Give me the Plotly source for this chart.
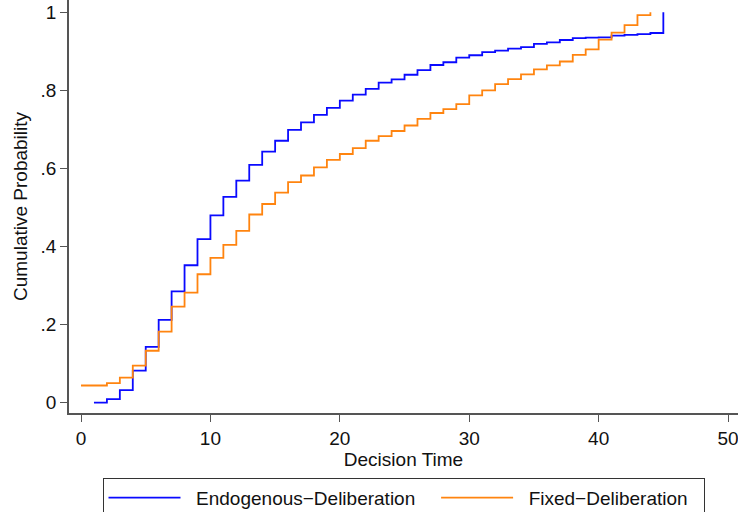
import plotly.graph_objects as go

# Decision times (x) and cumulative probabilities (y)
endo_x = [1, 2, 3, 4, 5, 6, 7, 8, 9, 10, 11, 12, 13, 14, 15, 16, 17, 18, 19, 20,
          21, 22, 23, 24, 25, 26, 27, 28, 29, 30, 31, 32, 33, 34, 35, 36, 37, 38,
          39, 40, 41, 42, 43, 44, 45]
endo_y = [0.0, 0.009, 0.032, 0.082, 0.143, 0.212, 0.285, 0.352, 0.419, 0.48,
          0.527, 0.569, 0.609, 0.643, 0.671, 0.699, 0.718, 0.737, 0.755, 0.774,
          0.789, 0.804, 0.82, 0.828, 0.84, 0.852, 0.865, 0.872, 0.884, 0.89,
          0.898, 0.902, 0.907, 0.911, 0.919, 0.923, 0.929, 0.934, 0.935, 0.936,
          0.94, 0.942, 0.944, 0.947, 1.0]

fixed_x = [0, 2, 3, 4, 5, 6, 7, 8, 9, 10, 11, 12, 13, 14, 15, 16, 17, 18, 19, 20,
           21, 22, 23, 24, 25, 26, 27, 28, 29, 30, 31, 32, 33, 34, 35, 36, 37, 38,
           39, 40, 41, 42, 43, 44]
fixed_y = [0.044, 0.05, 0.064, 0.095, 0.133, 0.182, 0.246, 0.282, 0.329, 0.371,
           0.404, 0.44, 0.482, 0.509, 0.538, 0.565, 0.582, 0.603, 0.622, 0.637,
           0.652, 0.671, 0.683, 0.696, 0.71, 0.727, 0.742, 0.752, 0.765, 0.787,
           0.8, 0.816, 0.829, 0.841, 0.854, 0.864, 0.874, 0.891, 0.905, 0.93,
           0.948, 0.967, 0.993, 1.0]

x_ticks = [0, 10, 20, 30, 40, 50]
y_ticks = [0, 0.2, 0.4, 0.6, 0.8, 1]
y_tick_labels = ["0", ".2", ".4", ".6", ".8", "1"]

series_names = ["Endogenous\u2212Deliberation", "Fixed\u2212Deliberation"]
PAD = "\u00a0\u00a0"  # small gap between legend key and its label

FONT = "Liberation Sans, Arial, Helvetica, sans-serif"
FS = 19
AXIS_COLOR = "#555555"

fig = go.Figure()
fig.add_trace(go.Scatter(x=endo_x, y=endo_y, mode="lines", line_shape="hv",
                         name=PAD + series_names[0] + "\u00a0\u00a0\u00a0",
                         line=dict(color="#0a0aff", width=1.8)))
fig.add_trace(go.Scatter(x=fixed_x, y=fixed_y, mode="lines", line_shape="hv",
                         name=PAD + series_names[1] + "\u00a0\u00a0",
                         line=dict(color="#ff840f", width=1.8)))

fig.update_layout(
    width=738, height=512,
    margin=dict(l=69, r=0, t=0, b=99, autoexpand=False),
    paper_bgcolor="white", plot_bgcolor="white",
    font=dict(family=FONT, size=FS, color="#111111"),
    showlegend=True,
    legend=dict(orientation="h", x=0.5, xanchor="center", y=-0.157, yanchor="top",
                bordercolor="#333333", borderwidth=1, bgcolor="white",
                itemwidth=72,
                font=dict(family=FONT, size=FS, color="#111111"),
                traceorder="normal"),
    xaxis=dict(range=[-0.93, 50.77], tickvals=x_ticks, ticks="outside", ticklen=7,
               tickwidth=1.3, tickcolor=AXIS_COLOR, showline=True, linecolor=AXIS_COLOR,
               linewidth=1.5, showgrid=False, zeroline=False, automargin=False,
               ticklabeloverflow="allow",
               title=dict(text="Decision Time", standoff=2,
                          font=dict(family=FONT, size=FS))),
    yaxis=dict(range=[-0.0264, 1.0315], tickvals=y_ticks, ticktext=y_tick_labels,
               ticks="outside", ticklen=7, tickwidth=1.3, tickcolor=AXIS_COLOR,
               showline=True, linecolor=AXIS_COLOR, linewidth=1.5, showgrid=False,
               zeroline=False, automargin=False,
               title=dict(text="Cumulative Probability", standoff=8,
                          font=dict(family=FONT, size=FS))),
)

fig.write_html("out.html", config={"displayModeBar": False},
               post_script="document.body.style.margin='0';")
